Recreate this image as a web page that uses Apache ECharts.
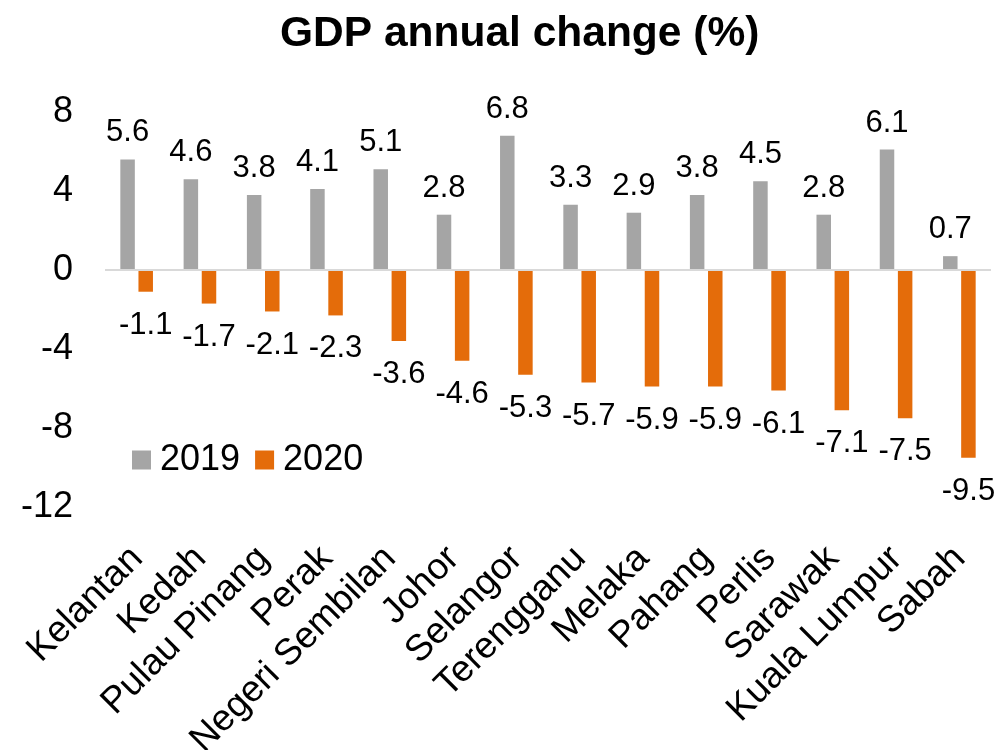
<!DOCTYPE html>
<html lang="en">
<head>
    <meta charset="UTF-8">
    <title>GDP annual change</title>
    <script src="https://cdn.jsdelivr.net/npm/echarts@6/dist/echarts.min.js"></script>
    <style>
        html, body { margin: 0; padding: 0; background: #fff; }
        #chart { width: 998px; height: 750px; }
    </style>
</head>
<body>
<div id="chart"></div>

<script>
    var states = ['Kelantan', 'Kedah', 'Pulau Pinang', 'Perak', 'Negeri Sembilan', 'Johor', 'Selangor',
        'Terengganu', 'Melaka', 'Pahang', 'Perlis', 'Sarawak', 'Kuala Lumpur', 'Sabah'];
    var gdp2019 = [5.6, 4.6, 3.8, 4.1, 5.1, 2.8, 6.8, 3.3, 2.9, 3.8, 4.5, 2.8, 6.1, 0.7];
    var gdp2020 = [-1.1, -1.7, -2.1, -2.3, -3.6, -4.6, -5.3, -5.7, -5.9, -5.9, -6.1, -7.1, -7.5, -9.5];

    var font = "'Liberation Sans', Arial, sans-serif";
    var myChart = echarts.init(document.getElementById('chart'));

    var option = {
        animation: false,
        textStyle: {fontFamily: font},
        title: {
            text: 'GDP annual change (%)',
            left: 275,
            top: 8,
            textStyle: {fontFamily: font, fontSize: 42.5, fontWeight: 'bold', color: '#000'}
        },
        legend: {
            left: 127,
            top: 437,
            itemWidth: 19,
            itemHeight: 19,
            itemGap: 15,
            icon: 'rect',
            textStyle: {fontFamily: font, fontSize: 36, color: '#000', padding: [0, 0, 0, 4]},
            data: ['2019', '2020']
        },
        grid: {left: 105, right: 7, top: 112, bottom: 243, outerBoundsMode: 'none', containLabel: false},
        xAxis: {
            type: 'category',
            data: states,
            axisLine: {show: false},
            axisTick: {show: false},
            axisLabel: {
                rotate: 45,
                interval: 0,
                margin: 20,
                verticalAlign: 'top',
                padding: [0, 18, 0, 0],
                fontFamily: font,
                fontSize: 37,
                color: '#000'
            }
        },
        yAxis: {
            type: 'value',
            min: -12,
            max: 8,
            interval: 4,
            axisLine: {show: false},
            axisTick: {show: false},
            splitLine: {show: false},
            axisLabel: {margin: 32, fontFamily: font, fontSize: 36, color: '#000'}
        },
        series: [
            {
                name: '2019',
                type: 'bar',
                data: gdp2019,
                barWidth: 14.5,
                barGap: '25%',
                itemStyle: {color: '#a5a5a5'},
                label: {show: true, position: 'top', distance: 11, fontFamily: font, fontSize: 31, color: '#000'},
                markLine: {
                    silent: true,
                    symbol: 'none',
                    label: {show: false},
                    lineStyle: {color: '#d9d9d9', width: 2, type: 'solid'},
                    data: [{yAxis: 0}]
                }
            },
            {
                name: '2020',
                type: 'bar',
                data: gdp2020,
                barWidth: 14.5,
                itemStyle: {color: '#e46c0a'},
                label: {show: true, position: 'bottom', distance: 18, fontFamily: font, fontSize: 31, color: '#000'}
            }
        ]
    };
    myChart.setOption(option);
</script>

</body>
</html>
